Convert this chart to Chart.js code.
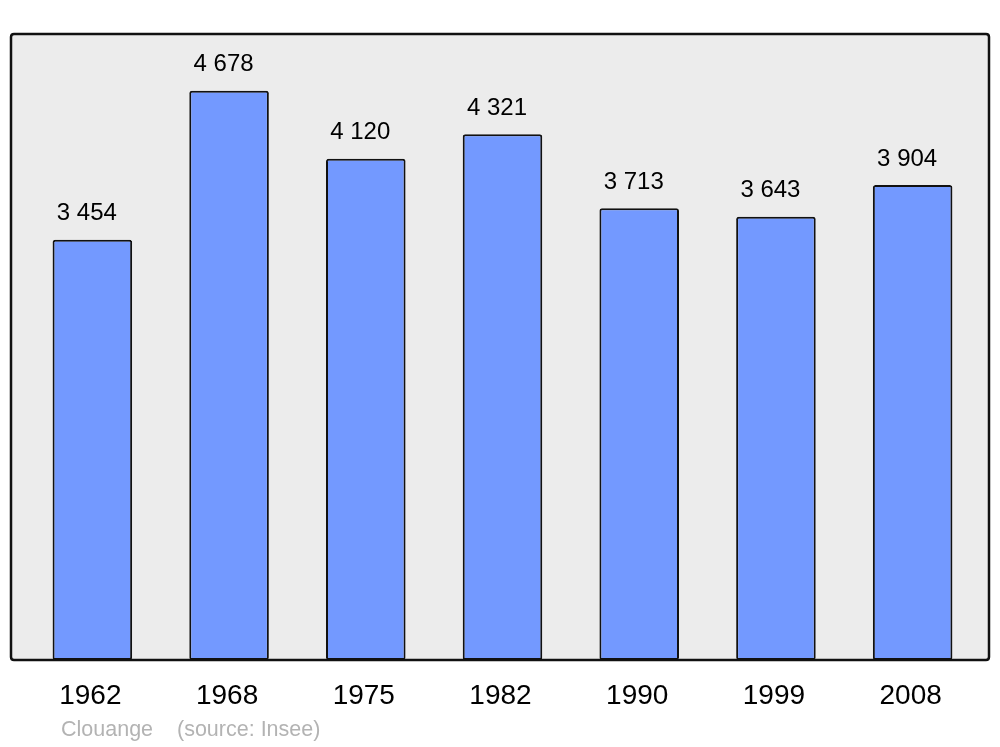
<!DOCTYPE html>
<html><head><meta charset="utf-8">
<script src="https://cdn.jsdelivr.net/npm/chart.js@4"></script>
<style>html,body{margin:0;padding:0;background:#fff}#wrap{width:1000px;height:747px}</style>
</head><body><div id="wrap"><canvas id="c" width="1000" height="747"></canvas></div>
<script>
const years = ['1962','1968','1975','1982','1990','1999','2008'];
const population = [3454,4678,4120,4321,3713,3643,3904];
const valueLabels = ['3 454','4 678','4 120','4 321','3 713','3 643','3 904'];
const captionPlace = 'Clouange';
const captionSource = '(source: Insee)';

function rr(ctx,x,y,w,h,r){ctx.beginPath();ctx.moveTo(x+r,y);ctx.lineTo(x+w-r,y);ctx.quadraticCurveTo(x+w,y,x+w,y+r);ctx.lineTo(x+w,y+h-r);ctx.quadraticCurveTo(x+w,y+h,x+w-r,y+h);ctx.lineTo(x+r,y+h);ctx.quadraticCurveTo(x,y+h,x,y+h-r);ctx.lineTo(x,y+r);ctx.quadraticCurveTo(x,y,x+r,y);ctx.closePath();}

const deco = {
  id:'deco',
  beforeDatasetsDraw(chart){
    const ctx=chart.ctx;ctx.save();
    rr(ctx,11,34,978,626,3);ctx.fillStyle='#ececec';ctx.fill();
    ctx.restore();
  },
  afterDatasetsDraw(chart){
    const ctx=chart.ctx;ctx.save();
    rr(ctx,11,34,978,626,3);ctx.lineWidth=2.5;ctx.strokeStyle='#111';ctx.stroke();
    const meta=chart.getDatasetMeta(0);const xs=chart.scales.x;
    ctx.fillStyle='#000';ctx.textAlign='center';ctx.textBaseline='middle';
    ctx.font='24px "Liberation Sans", Arial, sans-serif';
    meta.data.forEach((b,i)=>{ctx.fillText(valueLabels[i],b.x-5.5,b.y-26);});
    ctx.font='28px "Liberation Sans", Arial, sans-serif';
    years.forEach((y,i)=>{ctx.fillText(y,xs.getPixelForValue(i)-2,696);});
    ctx.fillStyle='#b3b3b3';ctx.textAlign='left';
    ctx.font='21.5px "Liberation Sans", Arial, sans-serif';
    ctx.fillText(captionPlace,61,730);
    ctx.fillText(captionSource,177,730);
    ctx.restore();
  }
};

new Chart(document.getElementById('c'),{
  type:'bar',
  data:{labels:years,datasets:[{data:population,backgroundColor:'#7399ff',borderColor:'#111',borderWidth:2,borderRadius:2.5,borderSkipped:false,categoryPercentage:1,barPercentage:0.582}]},
  options:{
    responsive:false,animation:false,devicePixelRatio:1,
    layout:{padding:{left:24,right:19,top:34,bottom:87}},
    plugins:{legend:{display:false},tooltip:{enabled:false}},
    scales:{
      x:{display:false},
      y:{display:false,min:0,max:5145}
    }
  },
  plugins:[deco]
});
</script></body></html>
